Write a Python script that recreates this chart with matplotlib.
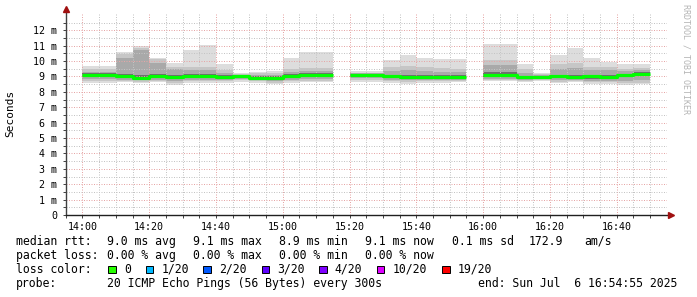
import matplotlib
matplotlib.use('Agg')
import matplotlib.pyplot as plt
from matplotlib.patches import Rectangle
import numpy as np

# ---------------- data (ms) ----------------
slot_labels = ['14:00', '14:05', '14:10', '14:15', '14:20', '14:25', '14:30', '14:35',
               '14:40', '14:45', '14:50', '14:55', '15:00', '15:05', '15:10',
               '15:20', '15:25', '15:30', '15:35', '15:40', '15:45', '15:50',
               '16:00', '16:05', '16:10', '16:15', '16:20', '16:25', '16:30', '16:35',
               '16:40', '16:45']
median = [9.11, 9.11, 9.01, 8.93, 9.01, 8.97, 9.01, 9.01, 8.97, 9.05, 8.93, 8.93, 9.01, 9.10, 9.10,
          9.10, 9.10, 9.01, 8.97, 8.97, 8.97, 8.97,
          9.10, 9.10, 8.97, 8.97, 9.00, 8.97, 9.00, 8.97, 9.08, 9.19]
rtt_max = [9.66, 9.66, 10.59, 10.96, 10.20, 9.88, 10.70, 11.07, 9.81, 9.21, 9.29, 9.36, 10.20, 10.59, 10.59,
           9.34, 9.34, 10.05, 10.38, 10.18, 10.10, 10.10,
           11.13, 11.13, 9.79, 9.25, 10.38, 10.83, 10.18, 9.92, 9.79, 9.79]
hi2 = [9.50, 9.50, 10.45, 10.85, 10.10, 9.60, 9.60, 9.60, 9.40, 9.15, 9.20, 9.25, 9.50, 9.55, 9.55,
       9.25, 9.25, 9.60, 9.70, 9.60, 9.55, 9.50,
       10.05, 10.05, 9.45, 9.15, 9.80, 9.90, 9.60, 9.60, 9.50, 9.55]
hi3 = [9.30, 9.30, 10.20, 10.70, 9.90, 9.45, 9.40, 9.40, 9.25, 9.10, 9.10, 9.10, 9.30, 9.35, 9.35,
       9.20, 9.20, 9.35, 9.40, 9.35, 9.30, 9.30,
       9.75, 9.75, 9.20, 9.08, 9.50, 9.55, 9.40, 9.40, 9.35, 9.40]
hi4 = [9.22, 9.22, 9.15, 9.08, 9.15, 9.10, 9.13, 9.13, 9.08, 9.12, 9.05, 9.05, 9.13, 9.20, 9.20,
       9.18, 9.18, 9.12, 9.10, 9.10, 9.08, 9.08,
       9.30, 9.30, 9.06, 9.05, 9.12, 9.10, 9.12, 9.10, 9.18, 9.26]
lo4 = [8.98, 8.98, 8.90, 8.82, 8.90, 8.84, 8.90, 8.90, 8.86, 8.95, 8.82, 8.75, 8.90, 8.96, 8.96,
       9.02, 9.02, 8.90, 8.85, 8.86, 8.86, 8.88,
       8.96, 8.96, 8.86, 8.88, 8.88, 8.86, 8.86, 8.86, 8.96, 9.02]
lo3 = [8.85, 8.85, 8.80, 8.75, 8.80, 8.70, 8.80, 8.80, 8.78, 8.85, 8.75, 8.68, 8.80, 8.82, 8.82,
       8.90, 8.90, 8.80, 8.75, 8.78, 8.78, 8.80,
       8.85, 8.85, 8.78, 8.82, 8.78, 8.80, 8.72, 8.72, 8.70, 8.75]
lo2 = [8.70, 8.70, 8.72, 8.65, 8.72, 8.55, 8.70, 8.70, 8.68, 8.75, 8.68, 8.60, 8.68, 8.72, 8.72,
       8.75, 8.75, 8.70, 8.62, 8.68, 8.68, 8.72,
       8.78, 8.78, 8.70, 8.76, 8.66, 8.72, 8.62, 8.62, 8.55, 8.60]
rtt_min = [8.58, 8.58, 8.65, 8.58, 8.65, 8.43, 8.58, 8.58, 8.60, 8.65, 8.58, 8.52, 8.58, 8.65, 8.65,
           8.65, 8.65, 8.58, 8.52, 8.60, 8.60, 8.65,
           8.71, 8.71, 8.65, 8.71, 8.58, 8.65, 8.54, 8.54, 8.43, 8.48]

xtick_labels = ['14:00', '14:20', '14:40', '15:00', '15:20', '15:40', '16:00', '16:20', '16:40']
ytick_values = list(range(0, 13))
ytick_labels = ['0'] + ['%d m' % v for v in range(1, 13)]

loss_labels = ['0', '1/20', '2/20', '3/20', '4/20', '10/20', '19/20']
loss_colors = ['#26ff00', '#00b8ff', '#0059ff', '#5e00ff', '#7e00ff', '#dd00ff', '#ff0000']

# ---------------- figure ----------------
W, H = 697, 297
fig = plt.figure(figsize=(W / 100, H / 100), dpi=100)
fig.patch.set_facecolor('white')
mono = 'DejaVu Sans Mono'

def fx(px):
    return px / W

def fy(py):
    return 1 - py / H

ax_l, ax_r, ax_t, ax_b = 65.5, 666.5, 13.3, 215.0
ax = fig.add_axes([fx(ax_l), fy(ax_b), (ax_r - ax_l) / W, (ax_b - ax_t) / H])
ax.set_facecolor('white')


def to_min(s):
    h, m = s.split(':')
    return (int(h) - 14) * 60 + int(m)


starts = np.array([to_min(s) for s in slot_labels], dtype=float)
bands = [(rtt_min, rtt_max, '#dddddd'), (lo2, hi2, '#c6c6c6'),
         (lo3, hi3, '#a9a9a9'), (lo4, hi4, '#6e6e6e')]
for lo, hi, col in bands:
    lo = np.array(lo)
    hi = np.array(hi)
    ax.bar(starts, hi - lo, bottom=lo, width=5, align='edge', color=col,
           linewidth=0, zorder=1)

# median step line with gaps
xs, ys = [], []
for i, s in enumerate(starts):
    xs += [s, s + 5]
    ys += [median[i], median[i]]
    if i + 1 < len(starts) and starts[i + 1] != s + 5:
        xs.append(s + 5)
        ys.append(np.nan)
ax.plot(xs, ys, color='#00ff00', lw=2.3, zorder=4, solid_capstyle='butt')

ax.set_xlim(-5.083, 174.917)
ax.set_ylim(0, 13.1)

xt = [to_min(s) for s in xtick_labels]
ax.set_xticks(xt)
ax.set_xticklabels(xtick_labels, fontfamily=mono, fontsize=7.2)
ax.set_xticks(np.arange(-5, 175, 5), minor=True)
ax.set_yticks(ytick_values)
ax.set_yticklabels(ytick_labels, fontfamily=mono, fontsize=7.2)
ax.set_yticks(np.arange(0.5, 13.1, 1.0), minor=True)

ax.grid(which='minor', color='#c4c4c4', lw=0.72, ls=(0, (1, 1.5)))
ax.grid(which='major', color='#e6a6a6', lw=0.72, ls=(0, (1, 1.5)))
ax.set_axisbelow(False)

ax.tick_params(which='both', length=2, width=0.7, color='#404040', pad=3)
ax.tick_params(axis='y', which='major', pad=4)
for sp in ax.spines.values():
    sp.set_visible(False)

# axis lines with arrows
ax.plot([0, 0], [0, 1.02], transform=ax.transAxes, color='#404040', lw=1.0, clip_on=False, zorder=5)
ax.plot([0, 1.008], [0, 0], transform=ax.transAxes, color='#202020', lw=1.0, clip_on=False, zorder=5)
ax.plot([0], [1.02], marker='^', ms=4.5, color='#a01010', transform=ax.transAxes, clip_on=False, zorder=6)
ax.plot([1.008], [0], marker='>', ms=4.5, color='#a01010', transform=ax.transAxes, clip_on=False, zorder=6)

fig.text(fx(10), fy(113), 'Seconds', rotation=90, ha='center', va='center',
         fontfamily=mono, fontsize=8)
fig.text(fx(686), fy(4), 'RRDTOOL / TOBI OETIKER', rotation=270, ha='center', va='top',
         fontfamily=mono, fontsize=6.0, color='#b4b4b4')

fs = 8.3
def t(x, y, s):
    fig.text(fx(x), fy(y), s, ha='left', va='center', fontfamily=mono, fontsize=fs, color='black')

r1, r2, r3, r4 = 241.5, 255.2, 269.2, 283.3
t(16, r1, 'median rtt:')
t(107.3, r1, '9.0 ms avg')
t(193.3, r1, '9.1 ms max')
t(279.3, r1, '8.9 ms min')
t(365, r1, '9.1 ms now')
t(451.7, r1, '0.1 ms sd')
t(528.5, r1, '172.9')
t(584.7, r1, 'am/s')

t(16, r2, 'packet loss:')
t(107.3, r2, '0.00 % avg')
t(193.3, r2, '0.00 % max')
t(279.3, r2, '0.00 % min')
t(365, r2, '0.00 % now')

t(16, r3, 'loss color:')
sq_x = [108.3, 145.7, 203.3, 261.7, 319.0, 376.7, 442.3]
for x, lab, col in zip(sq_x, loss_labels, loss_colors):
    fig.patches.append(Rectangle((fx(x), fy(273.3)), 7.5 / W, 7.8 / H, transform=fig.transFigure,
                                 facecolor=col, edgecolor='black', lw=0.7))
    t(x + 15.5, r3, lab)

t(16, r4, 'probe:')
t(107.3, r4, '20 ICMP Echo Pings (56 Bytes) every 300s')
t(478.3, r4, 'end: Sun Jul  6 16:54:55 2025')

fig.savefig('out.png', dpi=100, facecolor='white')
